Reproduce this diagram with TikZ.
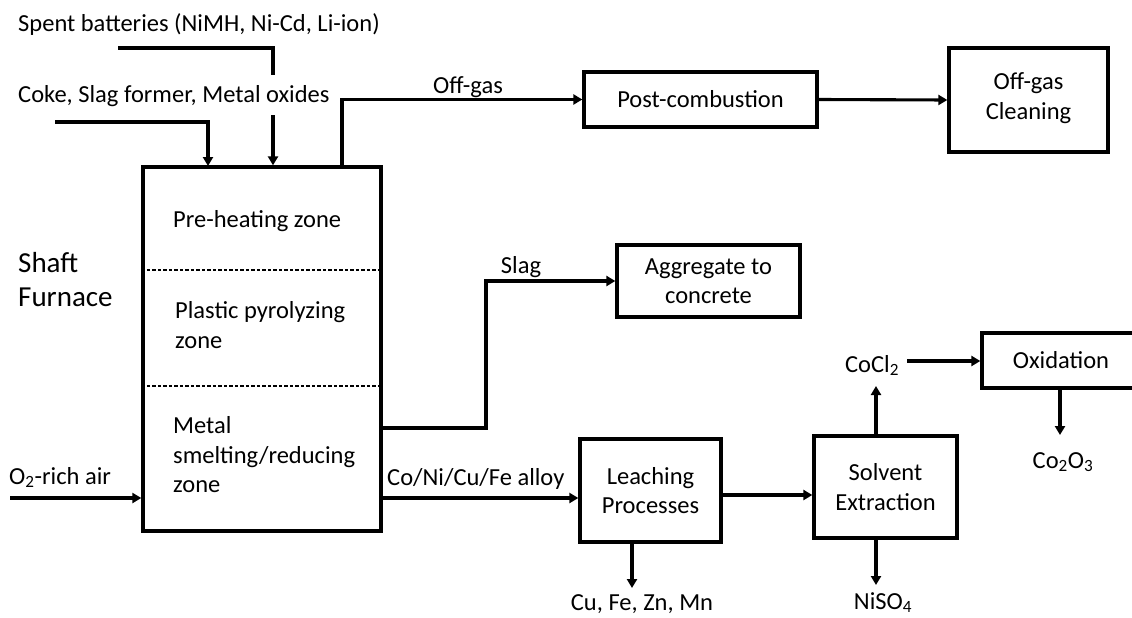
\documentclass[tikz,border=0pt]{standalone}
\usepackage{fontspec}
\setmainfont{Carlito}
\usetikzlibrary{arrows.meta}
\begin{document}
\begin{tikzpicture}[x=1pt,y=-1pt,
  every node/.style={font=\fontsize{24.5}{29.5}\selectfont},
  box/.style={draw,line width=3.3pt,align=center,inner sep=0pt},
  lbl/.style={inner sep=0pt},
  conn/.style={line width=3.1pt},
  arr/.style={conn,-{Triangle[length=9pt,width=10pt]}},
  zoneline/.style={line width=1.1pt,dash pattern=on 3.5pt off 2pt}]
\useasboundingbox (0,0) rectangle (1132,618);
% furnace
\node[box,minimum width=238pt,minimum height=364pt] (furnace) at (262,349) {};
\node[box,minimum width=233pt,minimum height=55pt] (post) at (700.5,99.5) {Post-combustion};
\node[box,minimum width=159pt,minimum height=104pt] (clean) at (1028.5,100) {Off-gas\\Cleaning\rule[-8pt]{0pt}{1pt}};
\node[box,minimum width=183pt,minimum height=72pt] (agg) at (708.5,281) {Aggregate to\\concrete};
\node[box,minimum width=141pt,minimum height=103pt] (leach) at (650.5,490.5) {Leaching\\Processes};
\node[box,minimum width=143pt,minimum height=102pt] (solv) at (885.5,487) {Solvent\\Extraction};
\node[box,minimum width=166pt,minimum height=55pt] (oxid) at (1065,360.5) {Oxidation\hspace*{8pt}};
% zone separators
\draw[zoneline] (furnace.west |- 0,270) coordinate (z1a) -- (furnace.east |- 0,270) coordinate (z1b);
\draw[zoneline] (furnace.west |- 0,386) coordinate (z2a) -- (furnace.east |- 0,386) coordinate (z2b);
% zone labels
\node[lbl,anchor=base west] (pre) at (173,227) {Pre-heating zone};
\node[lbl,anchor=west,align=left] (plast) at (175,325) {Plastic pyrolyzing\\zone};
\node[lbl,anchor=west,align=left] (metal) at (173,455) {Metal\\smelting/reducing\\zone};
\node[lbl,anchor=west,align=left,font=\fontsize{29}{34}\selectfont] (shaft) at (18,280) {Shaft\\Furnace};
% inputs
\node[lbl,anchor=base west] (spent) at (18,32) {Spent batteries (NiMH, Ni-Cd, Li-ion)};
\node[lbl,anchor=base west] (coke) at (18,102) {Coke, Slag former, Metal oxides};
\coordinate (sp0) at (118,48);
\coordinate (sp1) at (273,75);
\coordinate (sp2) at (273,115);
\draw[conn] (sp0) -| (sp1);
\draw[arr] (sp2) -- (sp2 |- furnace.north);
\coordinate (ck0) at (55,122);
\draw[arr] (ck0) -| (208,166);
% O2 air
\node[lbl,anchor=base west] (o2) at (9,484) {O\textsubscript{2}-rich air};
\coordinate (o2a) at (10,498);
\draw[arr] (o2a) -- (o2a -| furnace.west);
% off-gas
\coordinate (og) at (342,167);
\draw[arr] (og) |- (post.west);
\node[lbl,anchor=base] (oglbl) at (468,93) {Off-gas};
\draw[arr] (post.east) -- (clean.west);
% slag
\coordinate (sl0) at (381,428);
\coordinate (sl1) at (486,428);
\draw[arr] (sl0) -- (sl1) |- (agg.west);
\node[lbl,anchor=base] (slaglbl) at (521,273) {Slag};
% alloy
\coordinate (al) at (381,498);
\draw[arr] (al) -- (al -| leach.west);
\node[lbl,anchor=base west] (alloylbl) at (387,485) {Co/Ni/Cu/Fe alloy};
% leaching
\coordinate (le) at (721,495);
\draw[arr] (le) -- (le -| solv.west);
\coordinate (lo) at (632,542);
\draw[arr] (lo) -- (632,588);
\node[lbl,anchor=base] (cu) at (642,610) {Cu, Fe, Zn, Mn};
% solvent extraction
\coordinate (su) at (876,436);
\draw[arr] (su) -- (876,386);
\node[lbl,anchor=base] (cocl) at (872,372) {CoCl\textsubscript{2}};
\coordinate (sd) at (876,538);
\draw[arr] (sd) -- (876,585);
\node[lbl,anchor=base] (niso) at (883,609) {NiSO\textsubscript{4}};
\coordinate (cc) at (907,361);
\draw[arr] (cc) -- (cc -| oxid.west);
% oxidation
\coordinate (ox) at (1060,388);
\draw[arr] (ox) -- (1060,435);
\node[lbl,anchor=base] (coo) at (1063,468) {Co\textsubscript{2}O\textsubscript{3}};
\end{tikzpicture}
\end{document}
